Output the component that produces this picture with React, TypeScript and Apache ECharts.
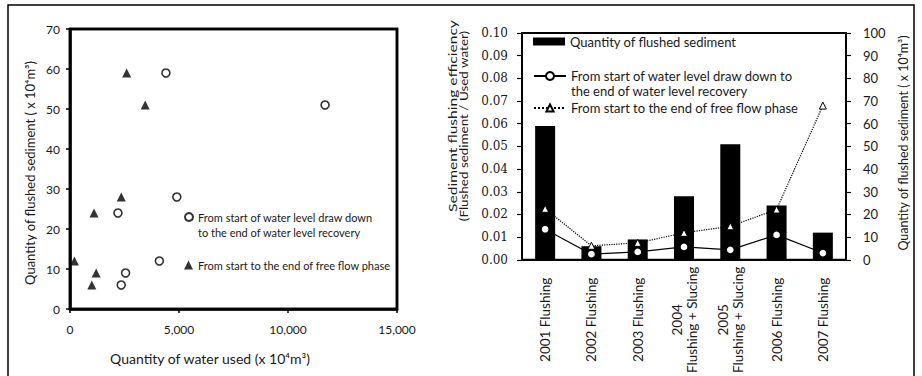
import React, { useEffect, useRef } from "react";
import * as echarts from "echarts";

const FONT = "Lato, 'Noto Sans', sans-serif";
const SERIF = "'DejaVu Serif', 'Liberation Serif', serif";

// Left chart: quantity of water used vs quantity of flushed sediment
const drawdownWater = [4400, 11700, 4900, 2200, 4100, 2550, 2350];
const drawdownSediment = [59, 51, 28, 24, 12, 9, 6];
const freeFlowWater = [2600, 3450, 2350, 1100, 200, 1200, 1000];
const freeFlowSediment = [59, 51, 28, 24, 12, 9, 6];

// Right chart
const categories = [
  "2001 Flushing",
  "2002 Flushing",
  "2003 Flushing",
  "2004\nFlushing + Slucing",
  "2005\nFlushing + Slucing",
  "2006 Flushing",
  "2007 Flushing",
];
const flushedSediment = [59, 6, 9, 28, 51, 24, 12];
const efficiencyDrawdown = [0.0135, 0.0025, 0.0035, 0.0057, 0.0044, 0.011, 0.003];
const efficiencyFreeFlow = [0.0225, 0.0062, 0.0075, 0.0119, 0.0148, 0.0222, 0.068];

const S_DRAW = "From start of water level draw down to the end of water level recovery";
const S_FREE = "From start to the end of free flow phase";
const S_BAR = "Quantity of flushed sediment";
const S_DRAW_EFF = "From start of water level draw down to the end of water level recovery (efficiency)";
const S_FREE_EFF = "From start to the end of free flow phase (efficiency)";

const BLACK = "#000";
const TXT = "#1a1a1a";

// layout
const G1 = { left: 70, top: 29, width: 327, height: 280 };
const G2 = { left: 522, top: 33, width: 324, height: 227 };

export default function App() {
  const ref = useRef<HTMLDivElement>(null);
  useEffect(() => {
    if (!ref.current) return;
    const chart = echarts.init(ref.current, null, { renderer: "svg" });
    const option: any = {
      animation: false,
      backgroundColor: "#fff",
      textStyle: { fontFamily: FONT },
      grid: [
        { ...G1, show: true, borderColor: BLACK, borderWidth: 2.5, backgroundColor: "rgba(0,0,0,0)" },
        { ...G2, show: true, borderColor: BLACK, borderWidth: 2, backgroundColor: "rgba(0,0,0,0)" },
      ],
      xAxis: [
        {
          gridIndex: 0, type: "value", position: "bottom", min: 0, max: 15000, interval: 5000,
          axisLine: { onZero: false, lineStyle: { color: BLACK, width: 2.5 } },
          axisTick: { length: 4, lineStyle: { color: BLACK, width: 1.5 } },
          axisLabel: { margin: 14, fontSize: 12, color: TXT, fontFamily: FONT,
            formatter: (v: number) => v.toLocaleString("en-US") },
          splitLine: { show: false },
        },
        {
          gridIndex: 1, type: "category", position: "bottom", data: categories,
          axisLine: { onZero: false, lineStyle: { color: BLACK, width: 2 } },
          axisTick: { inside: true, length: 5, lineStyle: { color: BLACK, width: 1.2 } },
          axisLabel: {
            interval: 0, rotate: 90, margin: 8, color: TXT,
            formatter: (v: string) => v.split("\n").map((l) => `{c|${l}}`).join("\n"),
            rich: { c: { width: 104, align: "center", fontSize: 13.5, lineHeight: 15, fontFamily: FONT, color: TXT } },
          },
          splitLine: { show: false },
        },
      ],
      yAxis: [
        {
          gridIndex: 0, type: "value", position: "left", min: 0, max: 70, interval: 10,
          axisLine: { show: true, onZero: false, lineStyle: { color: BLACK, width: 2.5 } },
          axisTick: { show: true, length: 4, lineStyle: { color: BLACK, width: 1.5 } },
          axisLabel: { margin: 10, fontSize: 12, color: TXT, fontFamily: FONT },
          splitLine: { show: false },
        },
        {
          gridIndex: 1, type: "value", position: "left", min: 0, max: 0.1, interval: 0.01,
          axisLine: { show: true, onZero: false, lineStyle: { color: BLACK, width: 2 } },
          axisTick: { show: true, length: 5, lineStyle: { color: BLACK, width: 1.2 } },
          axisLabel: { margin: 14, fontSize: 12, color: TXT, fontFamily: SERIF,
            formatter: (v: number) => v.toFixed(2) },
          splitLine: { show: false },
        },
        {
          gridIndex: 1, type: "value", position: "right", min: 0, max: 100, interval: 10,
          axisLine: { show: true, onZero: false, lineStyle: { color: BLACK, width: 2 } },
          axisTick: { show: true, length: 5, lineStyle: { color: BLACK, width: 1.2 } },
          axisLabel: { margin: 17, fontSize: 13, color: TXT, fontFamily: FONT },
          splitLine: { show: false },
        },
      ],
      legend: [
        {
          data: [S_DRAW], left: 184, top: 194.5, padding: 0, itemWidth: 8, itemHeight: 8, selectedMode: false,
          textStyle: { fontSize: 11, lineHeight: 15, color: TXT, fontFamily: FONT },
          formatter: () => " \nFrom start of water level draw down\nto the end of water level recovery",
        },
        {
          data: [S_FREE], left: 184, top: 257.5, padding: 0, itemWidth: 9, itemHeight: 9, selectedMode: false,
          textStyle: { fontSize: 11, lineHeight: 15, color: TXT, fontFamily: FONT },
          formatter: () => "From start to the end of free flow phase",
        },
        {
          data: [{ name: S_BAR, icon: "rect" }], left: 533, top: 34, padding: 0, itemWidth: 32, itemHeight: 8, selectedMode: false,
          textStyle: { fontSize: 13, lineHeight: 15, color: TXT, fontFamily: FONT },
          formatter: () => "Quantity of flushed sediment",
        },
        {
          data: [S_DRAW_EFF], left: 533, top: 53.5, padding: 0, itemWidth: 32, itemHeight: 10, selectedMode: false,
          textStyle: { fontSize: 13, lineHeight: 15, color: TXT, fontFamily: FONT },
          formatter: () => " \nFrom start of water level draw down to\nthe end of water level recovery",
        },
        {
          data: [S_FREE_EFF], left: 533, top: 100.5, padding: 0, itemWidth: 32, itemHeight: 9, selectedMode: false,
          textStyle: { fontSize: 13, lineHeight: 15, color: TXT, fontFamily: FONT },
          formatter: () => "From start to the end of free flow phase",
        },
      ],
      series: [
        {
          name: S_DRAW, type: "scatter", xAxisIndex: 0, yAxisIndex: 0,
          data: drawdownWater.map((x, i) => [x, drawdownSediment[i]]),
          symbol: "circle", symbolSize: 8,
          itemStyle: { color: "#fff", borderColor: BLACK, borderWidth: 1.6 },
        },
        {
          name: S_FREE, type: "scatter", xAxisIndex: 0, yAxisIndex: 0,
          data: freeFlowWater.map((x, i) => [x, freeFlowSediment[i]]),
          symbol: "triangle", symbolSize: 9,
          itemStyle: { color: BLACK },
        },
        {
          name: S_BAR, type: "bar", xAxisIndex: 1, yAxisIndex: 2,
          data: flushedSediment, barWidth: 20,
          itemStyle: { color: BLACK },
        },
        {
          name: S_DRAW_EFF, type: "line", xAxisIndex: 1, yAxisIndex: 1,
          data: efficiencyDrawdown, symbol: "circle", symbolSize: 8, showAllSymbol: true,
          lineStyle: { color: BLACK, width: 1.2 },
          itemStyle: { color: "#fff", borderColor: BLACK, borderWidth: 1.3 },
          z: 3,
        },
        {
          name: S_FREE_EFF, type: "line", xAxisIndex: 1, yAxisIndex: 1,
          data: efficiencyFreeFlow, symbol: "triangle", symbolSize: 7, showAllSymbol: true,
          lineStyle: { color: BLACK, width: 1.2, type: "dotted" },
          itemStyle: { color: "#fff", borderColor: BLACK, borderWidth: 1 },
          z: 3,
        },
      ],
      graphic: [
        {
          id: "outer", type: "rect", silent: true,
          shape: { x: 8, y: 5, width: 906, height: 380 },
          style: { fill: "none", stroke: BLACK, lineWidth: 1.5 },
        },
        {
          id: "frameLeft", type: "rect", silent: true, z: 100,
          shape: { x: G1.left, y: G1.top, width: G1.width, height: G1.height },
          style: { fill: "none", stroke: BLACK, lineWidth: 2.5 },
        },
        {
          id: "frameRight", type: "rect", silent: true, z: 100,
          shape: { x: G2.left, y: G2.top, width: G2.width, height: G2.height },
          style: { fill: "none", stroke: BLACK, lineWidth: 2 },
        },
        {
          id: "xTitle", type: "text", x: 210, y: 358,
          style: { text: "Quantity of water used (x 10⁴m³)", font: `14px ${FONT}`, fill: TXT, align: "center", verticalAlign: "middle" },
        },
        {
          id: "yTitleL", type: "text", x: 30, y: 173, rotation: Math.PI / 2,
          style: { text: "Quantity of flushed sediment ( x 10⁴m³)", font: `13px ${FONT}`, fill: TXT, align: "center", verticalAlign: "middle" },
        },
        {
          id: "effTitle1", type: "text", x: 452.5, y: 116, rotation: Math.PI / 2, scaleX: 1.3,
          style: { text: "Sediment flushing efficiency", font: `12px ${FONT}`, fill: TXT, align: "center", verticalAlign: "middle" },
        },
        {
          id: "effTitle2", type: "text", x: 463, y: 126, rotation: Math.PI / 2, scaleX: 1.12,
          style: { text: "(Flushed sediment / Used water)", font: `12px ${FONT}`, fill: TXT, align: "center", verticalAlign: "middle" },
        },
        {
          id: "yTitleR", type: "text", x: 903, y: 143, rotation: Math.PI / 2,
          style: { text: "Quantity of flushed sediment ( x 10⁴m³)", font: `12.5px ${FONT}`, fill: TXT, align: "center", verticalAlign: "middle" },
        },
      ],
    };
    chart.setOption(option);
    return () => chart.dispose();
  }, []);
  return (
    <div
      ref={ref}
      style={{ position: "fixed", left: 0, top: 0, width: 922, height: 376, background: "#fff" }}
    />
  );
}
